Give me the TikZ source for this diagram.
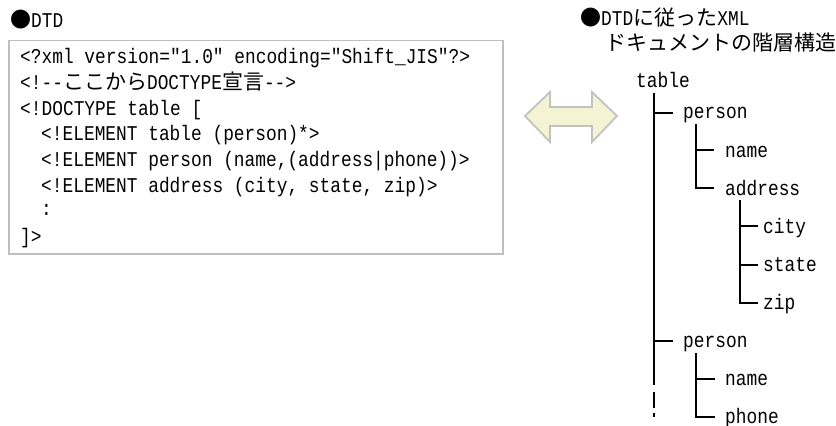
\documentclass[tikz,border=0pt]{standalone}
\usepackage{fontspec}
\setmainfont{Liberation Mono}
\newfontfamily\latn[FakeStretch=0.85]{Liberation Mono}
\newfontfamily\jpf{Noto Sans CJK JP}
\newcommand{\jj}[1]{{\jpf\fontsize{21}{24}\selectfont #1}}
\definecolor{arrowfill}{HTML}{F4F4D4}
\tikzset{
  x=1pt,y=-1pt,
  txt/.style={inner sep=0pt,anchor=base west,font=\latn\fontsize{21}{24}\selectfont,text=black},
  ln/.style={line width=2pt,draw=black,line cap=butt},
  framebox/.style={draw=black!25,line width=1.8pt,fill=white},
  dblarrow/.style={draw=black!24,line width=1.8pt,fill=arrowfill}
}
\begin{document}
\begin{tikzpicture}
\useasboundingbox (0,0) rectangle (836,426);
% left
\node[txt] (t1) at (10,27) {\jj{●}DTD};
\draw[framebox] (9,40.5) rectangle (503,254);
\node[txt] (l1) at (20,63) {<?xml version="1.0" encoding="Shift\_JIS"?>};
\node[txt] (l2) at (20,89) {<!--\jj{ここから}DOCTYPE\jj{宣言}-->};
\node[txt] (l3) at (20,115) {<!DOCTYPE table [};
\node[txt] (l4) at (41,140.5) {<!ELEMENT table (person)*>};
\node[txt] (l5) at (41,166) {<!ELEMENT person (name,(address|phone))>};
\node[txt] (l6) at (41,192) {<!ELEMENT address (city, state, zip)>};
\node[txt] (l7) at (41,215.5) {:};
\node[txt] (l8) at (20,243) {]>};
% arrow
\draw[dblarrow] (525,116) -- (550,92) -- (550,107) -- (592,107) -- (592,92) -- (617,116) -- (592,142) -- (592,126) -- (550,126) -- (550,142) -- cycle;
% right titles
\node[txt] (t2) at (580,25) {\jj{●}DTD\jj{に従った}XML};
\node[txt] (t3) at (605,50) {\jj{ドキュメントの階層構造}};
% tree
\node[txt] (table) at (636,87) {table};
\node[txt] (p1) at (683,118.5) {person};
\node[txt] (n1) at (725,157) {name};
\node[txt] (a1) at (725,195) {address};
\node[txt] (c1) at (763,233) {city};
\node[txt] (s1) at (763,271) {state};
\node[txt] (z1) at (763,309) {zip};
\node[txt] (p2) at (683,347) {person};
\node[txt] (n2) at (725,385) {name};
\node[txt] (f2) at (725,423) {phone};
\coordinate (rootdown) at (654,93);
\coordinate (rootend) at (654,385);
\coordinate (d1) at (654,392);
\coordinate (d2) at (654,408);
\coordinate (d3) at (654,413);
\coordinate (d4) at (654,417);
\draw[ln] (rootdown) -- (rootend);
\draw[ln] (d1) -- (d2);
\draw[ln] (d3) -- (d4);
\draw[ln] (654,113) -- (673,113);
\draw[ln] (654,341) -- (673,341);
\draw[ln] (696,124) -- (696,188) -- (714,188);
\draw[ln] (696,150) -- (714,150);
\draw[ln] (740,200) -- (740,303) -- (758,303);
\draw[ln] (740,226) -- (758,226);
\draw[ln] (740,265) -- (758,265);
\draw[ln] (696,353) -- (696,417) -- (715,417);
\draw[ln] (696,379) -- (715,379);
\end{tikzpicture}
\end{document}
